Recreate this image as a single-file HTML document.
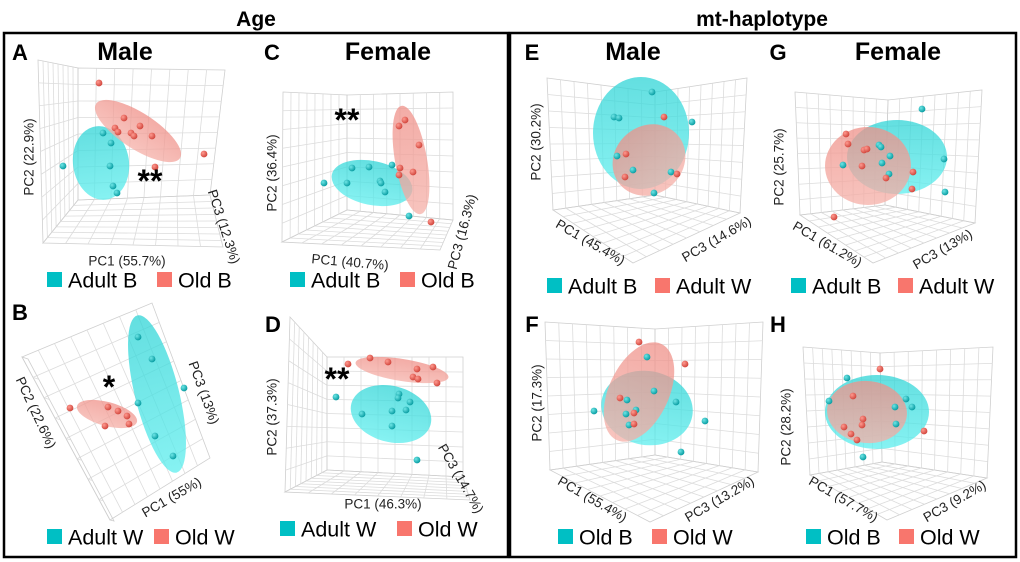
<!DOCTYPE html>
<html><head><meta charset="utf-8"><style>
html,body{margin:0;padding:0;background:#fff;}
svg{display:block;font-family:"Liberation Sans",sans-serif;}
</style></head><body>
<svg id="fig" width="1020" height="562" viewBox="0 0 1020 562" xmlns="http://www.w3.org/2000/svg">
<defs>
<radialGradient id="gT" cx="35%" cy="35%" r="65%"><stop offset="0" stop-color="#6fe6e6"/><stop offset="1" stop-color="#0a9ea3"/></radialGradient>
<radialGradient id="gR" cx="35%" cy="35%" r="65%"><stop offset="0" stop-color="#ff9a90"/><stop offset="1" stop-color="#d2473e"/></radialGradient>
<linearGradient id="eT" x1="0" y1="0" x2="0" y2="1"><stop offset="0" stop-color="#2fd4d6"/><stop offset="1" stop-color="#5eeeee"/></linearGradient>
<linearGradient id="eR" x1="0" y1="0" x2="0" y2="1"><stop offset="0" stop-color="#ef9088"/><stop offset="1" stop-color="#f5b0a8"/></linearGradient>
</defs>
<text x="256" y="26" font-size="21" font-weight="bold" text-anchor="middle">Age</text>
<text x="762" y="26" font-size="21" font-weight="bold" text-anchor="middle">mt-haplotype</text>
<rect x="4" y="33" width="504" height="524" fill="none" stroke="#000" stroke-width="2.5"/>
<rect x="510" y="33" width="506" height="524" fill="none" stroke="#000" stroke-width="2.5"/>
<g id="panels"></g>
</svg>
<script>
// ---- data (per panel, plot coordinates) ----
const panelIds = ["A","B","C","D","E","F","G","H"];
const A_tealX=[63,103,111,110,113,117], A_tealY=[166,133,143,166,186,193];
const A_redX=[99,124,115,118,140,131,134,152,155,204], A_redY=[83,118,128,132,126,133,136,136,167,154];
const B_tealX=[138,152,184,138,155,173], B_tealY=[337,359,388,403,436,456];
const B_redX=[70,108,118,127,105,129], B_redY=[408,407,411,416,426,424];
const C_tealX=[324,352,369,392,347,380,381,385,409], C_tealY=[183,168,167,165,183,181,183,192,216];
const C_redX=[405,399,419,400,413,399,431], C_redY=[120,126,145,168,172,175,222];
const D_tealX=[336,362,392,399,398,410,406,392,417], D_tealY=[397,414,411,394,398,402,410,426,460];
const D_redX=[348,370,388,417,433,413,418,437], D_redY=[364,358,362,369,367,377,379,383];
const E_tealX=[652,614,619,692,617,633,671,654], E_tealY=[92,117,118,122,156,170,172,193];
const E_redX=[664,626,625,677], E_redY=[117,154,177,174];
const F_tealX=[647,654,627,594,636,626,629,676,705,681], F_tealY=[357,391,400,411,410,414,425,402,421,452];
const F_redX=[639,685,620,634,634], F_redY=[342,364,398,413,424];
const G_tealX=[922,879,881,890,843,882,889,944,945], G_tealY=[109,145,147,156,165,163,174,159,192];
const G_redX=[846,848,864,867,862,913,886,912,834], G_redY=[134,144,150,149,166,172,178,189,217];
const H_tealX=[847,829,906,912,895,896,863], H_tealY=[378,401,399,407,407,424,457];
const H_redX=[880,853,863,862,844,851,857,924], H_redY=[369,396,419,425,427,434,440,431];
// ellipses: [cx, cy, rx, ry, rotation]
const A_tealEll=[101,163,28,37,-8], A_redEll=[138,131,50,18,33];
const B_tealEll=[157,394,22,81,-14], B_redEll=[107,414,31,12,15];
const C_tealEll=[372,183,41,22,12], C_redEll=[411,160,16,55,-10];
const D_tealEll=[391,414,41,28,15], D_redEll=[402,370,47,11,9];
const E_tealEll=[641,133,48,56,0], E_redEll=[649,160,38,34,-40];
const F_tealEll=[647,408,46,37,10], F_redEll=[639,392,30,53,25];
const G_tealEll=[897,157,50,37,0], G_redEll=[868,166,43,39,0];
const H_tealEll=[877,412,52,37,0], H_redEll=[867,412,40,31,5];
// legend labels
const A_legend=["Adult B","Old B"], B_legend=["Adult W","Old W"], C_legend=["Adult B","Old B"], D_legend=["Adult W","Old W"];
const E_legend=["Adult B","Adult W"], F_legend=["Old B","Old W"], G_legend=["Adult B","Adult W"], H_legend=["Old B","Old W"];
// axis labels
const A_axes=["PC1 (55.7%)","PC2 (22.9%)","PC3 (12.3%)"], B_axes=["PC1 (55%)","PC2 (22.6%)","PC3 (13%)"];
const C_axes=["PC1 (40.7%)","PC2 (36.4%)","PC3 (16.3%)"], D_axes=["PC1 (46.3%)","PC2 (37.3%)","PC3 (14.7%)"];
const E_axes=["PC1 (45.4%)","PC2 (30.2%)","PC3 (14.6%)"], F_axes=["PC1 (55.4%)","PC2 (17.3%)","PC3 (13.2%)"];
const G_axes=["PC1 (61.2%)","PC2 (25.7%)","PC3 (13%)"], H_axes=["PC1 (57.7%)","PC2 (28.2%)","PC3 (9.2%)"];

const data={
A:{tx:A_tealX,ty:A_tealY,rx:A_redX,ry:A_redY,te:A_tealEll,re:A_redEll,lg:A_legend,ax:A_axes},
B:{tx:B_tealX,ty:B_tealY,rx:B_redX,ry:B_redY,te:B_tealEll,re:B_redEll,lg:B_legend,ax:B_axes},
C:{tx:C_tealX,ty:C_tealY,rx:C_redX,ry:C_redY,te:C_tealEll,re:C_redEll,lg:C_legend,ax:C_axes},
D:{tx:D_tealX,ty:D_tealY,rx:D_redX,ry:D_redY,te:D_tealEll,re:D_redEll,lg:D_legend,ax:D_axes},
E:{tx:E_tealX,ty:E_tealY,rx:E_redX,ry:E_redY,te:E_tealEll,re:E_redEll,lg:E_legend,ax:E_axes},
F:{tx:F_tealX,ty:F_tealY,rx:F_redX,ry:F_redY,te:F_tealEll,re:F_redEll,lg:F_legend,ax:F_axes},
G:{tx:G_tealX,ty:G_tealY,rx:G_redX,ry:G_redY,te:G_tealEll,re:G_redEll,lg:G_legend,ax:G_axes},
H:{tx:H_tealX,ty:H_tealY,rx:H_redX,ry:H_redY,te:H_tealEll,re:H_redEll,lg:H_legend,ax:H_axes}
};

// ---- layout (not data) ----
const layout={
A:{walls:[[[38,60],[78,68],[78,200],[43,243]],[[78,68],[225,70],[210,195],[78,200]],[[43,243],[78,200],[210,195],[223,247]]],
   letter:[20,60],title:[125,60,"Male"],star:[150,192,"**"],
   lab:[[127,262,0],[30,157,-90],[223,227,72]],leg:[47,157,280]},
C:{walls:[[[283,92],[347,95],[347,210],[282,242]],[[347,95],[453,92],[453,220],[347,210]],[[282,242],[347,210],[453,220],[440,250]]],
   letter:[272,60],title:[388,60,"Female"],star:[347,131,"**"],
   lab:[[350,263,5],[273,173,-90],[463,232,-75]],leg:[290,400,280]},
B:{walls:[[[22,357],[152,303],[210,458],[110,520]],[[22,357],[28,359],[114,521],[110,520]]],
   letter:[20,320],title:null,star:[109,398,"*"],
   lab:[[172,498,-30],[35,413,65],[203,393,70]],leg:[47,154,537]},
D:{walls:[[[290,317],[327,357],[327,470],[285,492]],[[327,357],[463,357],[463,477],[327,470]],[[285,492],[327,470],[463,477],[470,500]]],
   letter:[273,332],title:null,star:[337,390,"**"],
   lab:[[383,505,0],[273,417,-90],[460,479,60]],leg:[280,397,529]},
E:{walls:[[[547,78],[655,92],[655,195],[553,210]],[[655,92],[747,78],[740,213],[655,195]],[[553,210],[655,195],[740,213],[633,263]]],
   letter:[532,60],title:[633,60,"Male"],star:null,
   lab:[[590,243,30],[537,142,-90],[717,240,-30]],leg:[547,655,286]},
G:{walls:[[[795,92],[888,100],[885,205],[800,215]],[[888,100],[982,90],[975,223],[885,205]],[[800,215],[885,205],[975,223],[873,263]]],
   letter:[778,60],title:[898,60,"Female"],star:null,
   lab:[[827,245,30],[780,167,-90],[943,250,-30]],leg:[791,898,286]},
F:{walls:[[[545,322],[655,329],[655,455],[550,470]],[[655,329],[763,322],[758,472],[655,455]],[[550,470],[655,455],[758,472],[650,522]]],
   letter:[532,332],title:null,star:null,
   lab:[[592,500,30],[538,403,-90],[720,500,-30]],leg:[558,652,537]},
H:{walls:[[[803,347],[880,353],[882,462],[810,475]],[[880,353],[993,347],[987,478],[882,462]],[[810,475],[882,462],[987,478],[887,520]]],
   letter:[778,332],title:null,star:null,
   lab:[[843,500,30],[787,427,-90],[955,502,-30]],leg:[806,899,537]}
};

const NS="http://www.w3.org/2000/svg";
const root=document.getElementById("panels");
function mk(tag,attrs,parent){const e=document.createElementNS(NS,tag);for(const k in attrs)e.setAttribute(k,attrs[k]);(parent||root).appendChild(e);return e;}
// identity axis scales in figure coordinates
function xScale(v){return 0+1*v;}
function yScale(v){return 0+1*v;}
function lerp(a,b,t){return [a[0]+(b[0]-a[0])*t,a[1]+(b[1]-a[1])*t];}

panelIds.forEach(id=>{
  const d=data[id], L=layout[id];
  const g=mk("g",{});
  
  
  const grid=mk("g",{stroke:"#dcdcdc","stroke-width":"0.8",fill:"none"},g);
  
  
  L.walls.forEach(q=>{
    mk("polygon",{points:q.map(p=>p.join(",")).join(" "),stroke:"#cfcfcf"},grid);
    const thin=Math.abs(q[0][0]-q[1][0])<10;
    const n=8;
    for(let i=1;i<n;i++){const t=i/n;
      if(!thin){const a=lerp(q[0],q[1],t),b=lerp(q[3],q[2],t);
      mk("line",{x1:a[0],y1:a[1],x2:b[0],y2:b[1]},grid);}
      const c=lerp(q[0],q[3],t),e=lerp(q[1],q[2],t);
      mk("line",{x1:c[0],y1:c[1],x2:e[0],y2:e[1]},grid);}
  });
  [[d.te,"url(#eT)","teal"],[d.re,"url(#eR)","red"]].forEach(([E,f,nm])=>{
    const el=mk("ellipse",{cx:xScale(E[0]),cy:yScale(E[1]),rx:E[2],ry:E[3],fill:f,"fill-opacity":"0.75",transform:`rotate(${E[4]} ${xScale(E[0])} ${yScale(E[1])})`},g);
    
    
  });
  d.tx.forEach((v,i)=>{
    const c=mk("circle",{cx:xScale(v),cy:yScale(d.ty[i]),r:3.4,fill:"url(#gT)"},g);
    
    
  });
  d.rx.forEach((v,i)=>{
    const c=mk("circle",{cx:xScale(v),cy:yScale(d.ry[i]),r:3.4,fill:"url(#gR)"},g);
    
    
  });
  const lt=mk("text",{x:L.letter[0],y:L.letter[1],"font-size":"22","font-weight":"bold","text-anchor":"middle"},g);
  lt.textContent=id;
  
  
  if(L.title){const t=mk("text",{x:L.title[0],y:L.title[1],"font-size":"25","font-weight":"bold","text-anchor":"middle"},g);
    t.textContent=L.title[2];
    
    }
  if(L.star){const s=mk("text",{x:L.star[0],y:L.star[1],"font-size":"32","font-weight":"bold","text-anchor":"middle"},g);
    s.textContent=L.star[2];
    
    }
  d.ax.forEach((txt,i)=>{const p=L.lab[i];
    const t=mk("text",{x:p[0],y:p[1],"font-size":"13.5","fill":"#222","text-anchor":"middle","dominant-baseline":"middle",transform:`rotate(${p[2]} ${p[0]} ${p[1]})`},g);
    t.textContent=txt;
    
    });
  const cols=["#00bfc4","#f8766d"];
  d.lg.forEach((txt,i)=>{const x=L.leg[i],y=L.leg[2];
    const r=mk("rect",{x:x,y:y-8,width:15,height:15,fill:cols[i]},g);
    
    
    const t=mk("text",{x:x+21,y:y+7.5,"font-size":"21.5"},g);
    t.textContent=txt;
    
    });
});
</script>
</body></html>
